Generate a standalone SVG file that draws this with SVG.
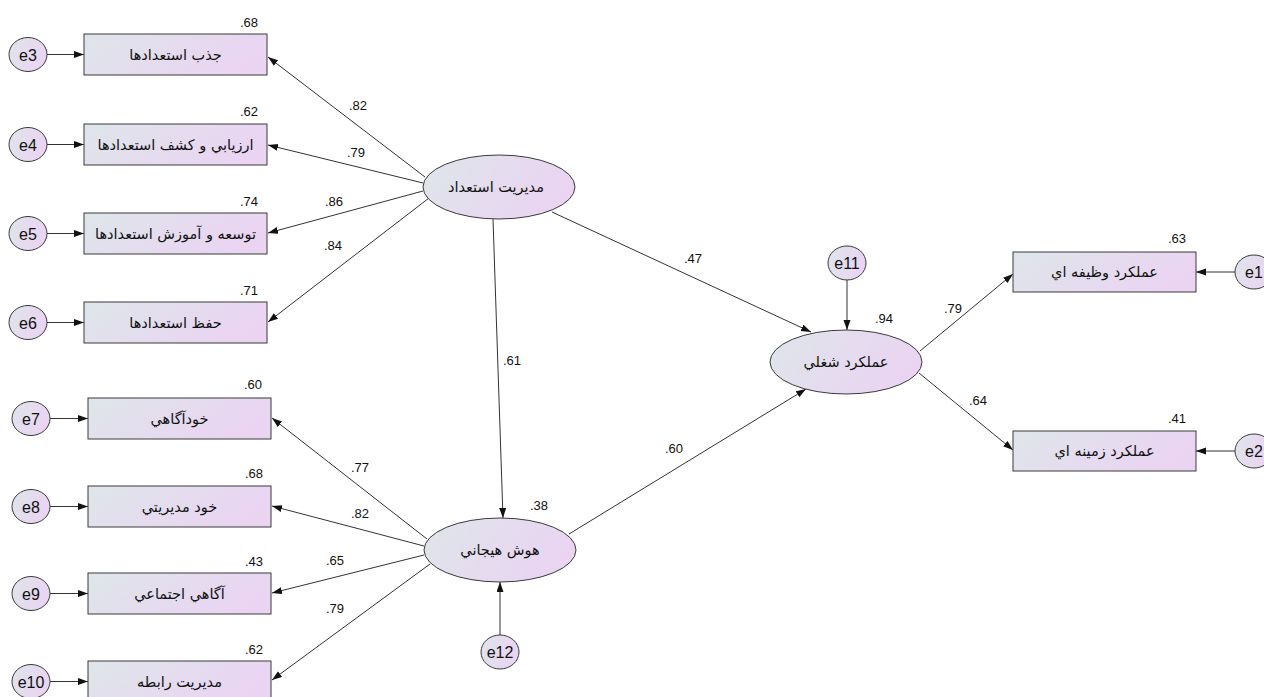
<svg xmlns="http://www.w3.org/2000/svg" width="1264" height="697" viewBox="0 0 1264 697">
<style>
.sh{fill:url(#g);stroke:#3a3a3a;stroke-width:1}
.ln{stroke:#333;stroke-width:1;fill:none;marker-end:url(#ah)}
.lbl{font-family:"Liberation Sans",Arial,sans-serif;font-size:13px;fill:#111}
.ar{font-family:"DejaVu Sans","Liberation Sans",sans-serif;font-size:14.5px;text-anchor:middle;fill:#111}
.et{font-family:"Liberation Sans",Arial,sans-serif;font-size:16px;text-anchor:middle;fill:#111}
.end{text-anchor:end}
</style>
<defs>
<linearGradient id="g" x1="0" y1="0" x2="1" y2="0.3">
<stop offset="0" stop-color="#dee6ea"/>
<stop offset="1" stop-color="#ead4f2"/>
</linearGradient>
<marker id="ah" markerUnits="userSpaceOnUse" markerWidth="11" markerHeight="8" refX="10" refY="3.5" orient="auto">
<path d="M0,0 L10,3.5 L0,7 z" fill="#111"/>
</marker>
</defs>
<rect width="1264" height="697" fill="#fff"/>

<g id="connectors">
<line class="ln" x1="47" y1="54.5" x2="84" y2="54.5"/>
<line class="ln" x1="47" y1="144.5" x2="84" y2="144.5"/>
<line class="ln" x1="47" y1="233.5" x2="84" y2="233.5"/>
<line class="ln" x1="47" y1="322.5" x2="84" y2="322.5"/>
<line class="ln" x1="50" y1="418.5" x2="88" y2="418.5"/>
<line class="ln" x1="50" y1="506.5" x2="88" y2="506.5"/>
<line class="ln" x1="50" y1="593.5" x2="88" y2="593.5"/>
<line class="ln" x1="50" y1="681.5" x2="88" y2="681.5"/>
<line class="ln" x1="1235" y1="272" x2="1196" y2="272"/>
<line class="ln" x1="1235" y1="451" x2="1196" y2="451"/>
<line class="ln" x1="425" y1="177" x2="268" y2="57"/>
<line class="ln" x1="423" y1="183" x2="268" y2="145"/>
<line class="ln" x1="423" y1="191" x2="268" y2="233"/>
<line class="ln" x1="429" y1="198" x2="268" y2="322"/>
<line class="ln" x1="427" y1="539" x2="272" y2="418"/>
<line class="ln" x1="424" y1="546" x2="272" y2="506"/>
<line class="ln" x1="424" y1="555" x2="272" y2="593"/>
<line class="ln" x1="430" y1="564" x2="272" y2="680"/>
<line class="ln" x1="493" y1="219" x2="503" y2="518"/>
<line class="ln" x1="552" y1="212" x2="811" y2="332"/>
<line class="ln" x1="569" y1="534" x2="806" y2="389"/>
<line class="ln" x1="847" y1="280" x2="847" y2="330"/>
<line class="ln" x1="500" y1="635" x2="500" y2="582"/>
<line class="ln" x1="920" y1="351" x2="1013" y2="274"/>
<line class="ln" x1="919" y1="373" x2="1013" y2="450"/>
</g>

<g id="box1"><rect class="sh" x="84" y="34" width="183" height="41"/><text class="ar" x="175.5" y="59.5">جذب استعدادها</text><text class="lbl end" x="258" y="27">.68</text></g>
<g id="box2"><rect class="sh" x="84" y="124" width="183" height="41"/><text class="ar" x="175.5" y="149.5">ارزيابي و كشف استعدادها</text><text class="lbl end" x="258" y="116">.62</text></g>
<g id="box3"><rect class="sh" x="84" y="213" width="183" height="41"/><text class="ar" x="175.5" y="238.5">توسعه و آموزش استعدادها</text><text class="lbl end" x="258" y="206">.74</text></g>
<g id="box4"><rect class="sh" x="84" y="302" width="183" height="41"/><text class="ar" x="175.5" y="327.5">حفظ استعدادها</text><text class="lbl end" x="258" y="295">.71</text></g>
<g id="box5"><rect class="sh" x="88" y="398" width="183" height="41"/><text class="ar" x="179.5" y="423.5">خودآگاهي</text><text class="lbl end" x="262" y="389">.60</text></g>
<g id="box6"><rect class="sh" x="88" y="486" width="183" height="41"/><text class="ar" x="179.5" y="511.5">خود مديريتي</text><text class="lbl end" x="263" y="478">.68</text></g>
<g id="box7"><rect class="sh" x="88" y="573" width="183" height="41"/><text class="ar" x="179.5" y="598.5">آگاهي اجتماعي</text><text class="lbl end" x="263" y="566">.43</text></g>
<g id="box8"><rect class="sh" x="88" y="661" width="183" height="41"/><text class="ar" x="179.5" y="686.5">مديريت رابطه</text><text class="lbl end" x="263" y="654">.62</text></g>
<g id="box9"><rect class="sh" x="1013" y="252" width="183" height="40"/><text class="ar" x="1104.5" y="277">عملكرد وظيفه اي</text><text class="lbl end" x="1186" y="243">.63</text></g>
<g id="box10"><rect class="sh" x="1013" y="431" width="183" height="40"/><text class="ar" x="1104.5" y="456">عملكرد زمينه اي</text><text class="lbl end" x="1186" y="423">.41</text></g>

<g id="lat1"><ellipse class="sh" cx="499" cy="187" rx="76" ry="32"/><text class="ar" x="496" y="192">مديريت استعداد</text></g>
<g id="lat2"><ellipse class="sh" cx="500" cy="550" rx="76" ry="32"/><text class="ar" x="500" y="555">هوش هيجاني</text><text class="lbl" x="530" y="510">.38</text></g>
<g id="lat3"><ellipse class="sh" cx="846" cy="362" rx="76" ry="32"/><text class="ar" x="846" y="367">عملكرد شغلي</text><text class="lbl" x="875" y="323">.94</text></g>

<g id="e3"><ellipse class="sh" cx="28" cy="54.5" rx="19" ry="17"/><text class="et" x="28" y="60.5">e3</text></g>
<g id="e4"><ellipse class="sh" cx="28" cy="144.5" rx="19" ry="17"/><text class="et" x="28" y="150.5">e4</text></g>
<g id="e5"><ellipse class="sh" cx="28" cy="233.5" rx="19" ry="17"/><text class="et" x="28" y="239.5">e5</text></g>
<g id="e6"><ellipse class="sh" cx="28" cy="322.5" rx="19" ry="17"/><text class="et" x="28" y="328.5">e6</text></g>
<g id="e7"><ellipse class="sh" cx="31" cy="418.5" rx="19" ry="17"/><text class="et" x="31" y="424.5">e7</text></g>
<g id="e8"><ellipse class="sh" cx="31" cy="506.5" rx="19" ry="17"/><text class="et" x="31" y="512.5">e8</text></g>
<g id="e9"><ellipse class="sh" cx="31" cy="593.5" rx="19" ry="17"/><text class="et" x="31" y="599.5">e9</text></g>
<g id="e10"><ellipse class="sh" cx="31" cy="681.5" rx="19" ry="17"/><text class="et" x="31" y="687.5">e10</text></g>
<g id="e1"><ellipse class="sh" cx="1254" cy="272" rx="19" ry="17"/><text class="et" x="1254" y="278">e1</text></g>
<g id="e2"><ellipse class="sh" cx="1254" cy="451" rx="19" ry="17"/><text class="et" x="1254" y="457">e2</text></g>
<g id="e11"><ellipse class="sh" cx="847" cy="263" rx="19" ry="17"/><text class="et" x="847" y="269">e11</text></g>
<g id="e12"><ellipse class="sh" cx="500" cy="652" rx="19" ry="17"/><text class="et" x="500" y="658">e12</text></g>

<g id="path-labels">
<text class="lbl" x="349" y="110">.82</text>
<text class="lbl" x="347" y="157">.79</text>
<text class="lbl" x="325" y="206">.86</text>
<text class="lbl" x="324" y="250">.84</text>
<text class="lbl" x="351" y="472">.77</text>
<text class="lbl" x="351" y="518">.82</text>
<text class="lbl" x="326" y="565">.65</text>
<text class="lbl" x="326" y="613">.79</text>
<text class="lbl" x="503" y="365">.61</text>
<text class="lbl" x="665" y="453">.60</text>
<text class="lbl" x="684" y="263">.47</text>
<text class="lbl" x="944" y="313">.79</text>
<text class="lbl" x="969" y="405">.64</text>
</g>
</svg>
